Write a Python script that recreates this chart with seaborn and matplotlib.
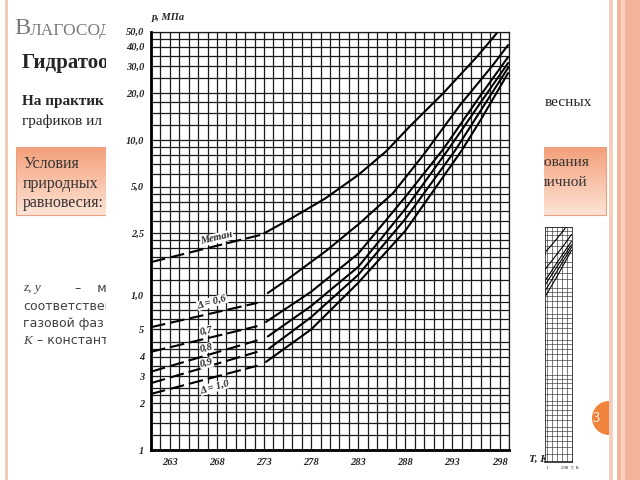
import numpy as np
import pandas as pd
import matplotlib
matplotlib.use("Agg")
import matplotlib.pyplot as plt
from matplotlib.patches import Rectangle, Wedge
from matplotlib.ticker import NullFormatter
import seaborn as sns

# равновесные кривые гидратообразования, p (МПа) от T (К)
# ниже 273 К - лёд (пунктир), выше - вода (сплошная)
ice_T = [261, 272.3]
methane_ice_T = [261, 272.6]
methane_ice_p = [1.63, 2.44]
d06_ice_p = [0.62, 0.89]
d07_ice_p = [0.43, 0.63]
d08_ice_p = [0.32, 0.51]
d09_ice_p = [0.27, 0.43]
d10_ice_p = [0.23, 0.35]

methane_T = [273.0, 276, 279.5, 283, 286, 288.5, 292, 295.6, 297.8]
methane_p = [2.5, 3.15, 4.2, 5.95, 8.5, 12.3, 20.0, 34.5, 49.7]
d06_T = [273.4, 275.4, 279.7, 283.2, 286.7, 289.9, 293.8, 297.3, 298.9]
d06_p = [1.03, 1.25, 1.95, 2.92, 4.55, 8.0, 16.8, 30.5, 41.0]
d07_T = [273.2, 278, 283, 288, 292, 296, 298.9]
d07_p = [0.67, 1.05, 1.85, 4.3, 8.7, 19.5, 34.3]
d08_T = [273.4, 278, 283, 288, 292.5, 296, 298.9]
d08_p = [0.54, 0.85, 1.52, 3.6, 8.6, 17.5, 31.4]
d09_T = [273.5, 278, 283, 288, 293.3, 296, 298.9]
d09_p = [0.45, 0.72, 1.35, 3.1, 8.6, 15.5, 29.2]
d10_T = [273.2, 278, 283, 288, 294, 296, 298.9]
d10_p = [0.37, 0.6, 1.2, 2.6, 8.6, 13.5, 27.0]

x_ticks = [263, 268, 273, 278, 283, 288, 293, 298]
y_ticks = [0.1, 0.2, 0.3, 0.4, 0.6, 1, 2.5, 5, 10, 20, 30, 40, 50]
y_labels = ["1", "2", "3", "4", "5", "1,0", "2,5", "5,0", "10,0", "20,0", "30,0", "40,0", "50,0"]
y_grid = [0.1, 0.125, 0.15, 0.175, 0.2, 0.225, 0.25, 0.3, 0.35, 0.4, 0.45, 0.5, 0.6, 0.7, 0.8, 0.9,
          1, 1.25, 1.5, 1.75, 2, 2.25, 2.5, 3, 3.5, 4, 4.5, 5, 6, 7, 8, 9,
          10, 12.5, 15, 17.5, 20, 25, 30, 35, 40, 45, 50]

curves = [
    ("Метан", methane_ice_T, methane_ice_p, methane_T, methane_p),
    ("0,6", ice_T, d06_ice_p, d06_T, d06_p),
    ("0,7", ice_T, d07_ice_p, d07_T, d07_p),
    ("0,8", ice_T, d08_ice_p, d08_T, d08_p),
    ("0,9", ice_T, d09_ice_p, d09_T, d09_p),
    ("1,0", ice_T, d10_ice_p, d10_T, d10_p),
]
rows = []
for name, iT, ip, wT, wp in curves:
    for t, p in zip(iT, ip):
        rows.append((name + " лёд", "лёд", t, p))
    for t, p in zip(wT, wp):
        rows.append((name + " вода", "вода", t, p))
df = pd.DataFrame(rows, columns=["seg", "branch", "T", "p"])

sns.set_style("white")
plt.rcParams["font.family"] = ["Liberation Serif", "DejaVu Sans"]

fig = plt.figure(figsize=(6.4, 4.8), dpi=100)

# --- фон слайда (координаты в пикселях) ---
bg = fig.add_axes([0, 0, 1, 1])
top_col = np.array([244, 160, 122]) / 255
bot_col = np.array([253, 228, 214]) / 255
grad = np.linspace(0, 1, 60)[:, None, None] * (bot_col - top_col) + top_col
bg.imshow(grad, extent=[16, 606, 215, 147], aspect="auto", origin="upper", zorder=1)
bg.add_patch(Rectangle((16, 147), 590, 68, fill=False, ec="#e9a384", lw=0.8, zorder=2))
bg.add_patch(Rectangle((5, 0), 2.5, 480, color="#f6c8b6", lw=0, zorder=1))
bg.add_patch(Rectangle((609, 0), 4, 480, color="#f7cdbd", lw=0, zorder=1))
bg.add_patch(Rectangle((617, 0), 23, 480, color="#f4b49c", lw=0, zorder=1))
bg.add_patch(Rectangle((621, 0), 4, 480, color="#f9cfc0", lw=0, zorder=1))
bg.add_patch(Wedge((609, 418), 17, 90, 270, color="#f0843c", lw=0, zorder=2))
bg.text(596, 419, "3", color="white", fontsize=10, ha="center", va="center", zorder=3)

gray = "#333333"
bg.text(14, 29, "В", color="#7a7a7a", fontsize=17.5, va="center")
bg.text(30, 31, "ЛАГОСОД", color="#7a7a7a", fontsize=12.5, va="center")
bg.text(22, 63, "Гидратоо", fontsize=15, weight="bold", va="center")
bg.text(22, 101, "На практик", fontsize=11, weight="bold", va="center")
bg.text(22, 121, "графиков ил", fontsize=11, va="center", color="#222222")
bg.text(545, 102, "весных", fontsize=11, va="center", color="#222222")
bg.text(23, 164, "Условия", fontsize=11.5, va="center", color=gray)
bg.text(23, 184, "природных", fontsize=11.5, va="center", color=gray)
bg.text(23, 203, "равновесия:", fontsize=11.5, va="center", color=gray)
bg.text(539, 163, "зования", fontsize=11, va="center", color=gray)
bg.text(540, 183, "личной", fontsize=11, va="center", color=gray)
bg.text(23, 288, "z, y", fontsize=9.5, style="italic", va="center", color="#404040")
bg.text(75, 288, "–    м", fontsize=9, family="DejaVu Sans", va="center", color="#404040")
bg.text(23, 306, "соответствен", fontsize=9, family="DejaVu Sans", va="center", color="#404040")
bg.text(23, 323, "газовой фаз", fontsize=9, family="DejaVu Sans", va="center", color="#404040")
bg.text(23, 341, "K", fontsize=9.5, style="italic", va="center", color="#404040")
bg.text(37, 341, "– констант", fontsize=9, family="DejaVu Sans", va="center", color="#404040")
# белая подложка вставленного рисунка
bg.add_patch(Rectangle((106, 0), 438, 480, color="white", lw=0, zorder=10))
bg.text(152, 18, "p, МПа", fontsize=7.5, weight="bold", style="italic", va="center", zorder=11)
bg.text(529, 459, "T, K", fontsize=8, weight="bold", style="italic", va="center", zorder=11)
bg.text(546, 468, "1", fontsize=3.5, va="center", zorder=11)
bg.text(561, 468, "298  T, K", fontsize=3.5, va="center", zorder=11)
bg.set_xlim(0, 640)
bg.set_ylim(480, 0)
bg.axis("off")

# --- основной график ---
ax = fig.add_axes([151 / 640, 30 / 480, 358 / 640, 418.3 / 480])
sns.lineplot(data=df, x="T", y="p", units="seg", estimator=None, style="branch",
             dashes={"лёд": (7, 2.4), "вода": ""}, color="black", lw=1.5,
             sort=False, legend=False, ax=ax, zorder=5)
ax.set_yscale("log")
ax.set_xlim(261, 299)
ax.set_ylim(0.1, 50)
ax.set_xticks(x_ticks)
ax.set_xticklabels([str(t) for t in x_ticks])
ax.set_yticks(y_ticks)
ax.set_yticklabels(y_labels)
ax.set_xticks(np.arange(261, 300), minor=True)
ax.set_yticks(y_grid, minor=True)
ax.yaxis.set_minor_formatter(NullFormatter())
ax.grid(which="both", color="#1a1a1a", lw=0.9)
ax.tick_params(which="both", length=0)
ax.tick_params(axis="x", pad=6)
ax.tick_params(axis="y", pad=5)
for lab in ax.get_xticklabels() + ax.get_yticklabels():
    lab.set_fontsize(7.5)
    lab.set_fontweight("bold")
    lab.set_fontstyle("italic")
ax.set_xlabel("")
ax.set_ylabel("")
for side in ["top", "right"]:
    ax.spines[side].set_linewidth(0.9)
    ax.spines[side].set_color("#1a1a1a")
for side in ["left", "bottom"]:
    ax.spines[side].set_linewidth(2.0)
    ax.spines[side].set_color("black")

box = dict(fc="white", ec="none", pad=0.4)
lab_kw = dict(fontsize=7.5, weight="bold", style="italic", ha="center", va="center",
              rotation_mode="anchor", bbox=box, zorder=6)
ax.text(268.0, 2.33, "Метан", rotation=13, **lab_kw)
ax.text(267.5, 0.90, "Δ = 0,6", rotation=16, **lab_kw)
ax.text(266.9, 0.59, "0,7", rotation=12, **lab_kw)
ax.text(266.9, 0.455, "0,8", rotation=12, **lab_kw)
ax.text(266.9, 0.364, "0,9", rotation=12, **lab_kw)
ax.text(267.8, 0.255, "Δ = 1,0", rotation=16, **lab_kw)

# --- миниатюра справа ---
thumb = fig.add_axes([545 / 640, 18 / 480, 27 / 640, 235 / 480])
sns.lineplot(data=df, x="T", y="p", units="seg", estimator=None, color="black",
             lw=0.8, sort=False, legend=False, ax=thumb)
thumb.set_yscale("log")
thumb.set_xlim(293.6, 299)
thumb.set_ylim(0.1, 50)
thumb.set_xticks(np.arange(294, 299), minor=True)
thumb.set_yticks(y_grid, minor=True)
thumb.set_xticks([])
thumb.set_yticks([], minor=False)
thumb.yaxis.set_minor_formatter(NullFormatter())
thumb.grid(which="minor", color="#333333", lw=0.45)
thumb.tick_params(which="both", length=0, labelbottom=False, labelleft=False)
thumb.set_xlabel("")
thumb.set_ylabel("")
for s in thumb.spines.values():
    s.set_linewidth(0.6)
thumb.spines["bottom"].set_linewidth(1.2)

fig.savefig("out.png", dpi=100)
